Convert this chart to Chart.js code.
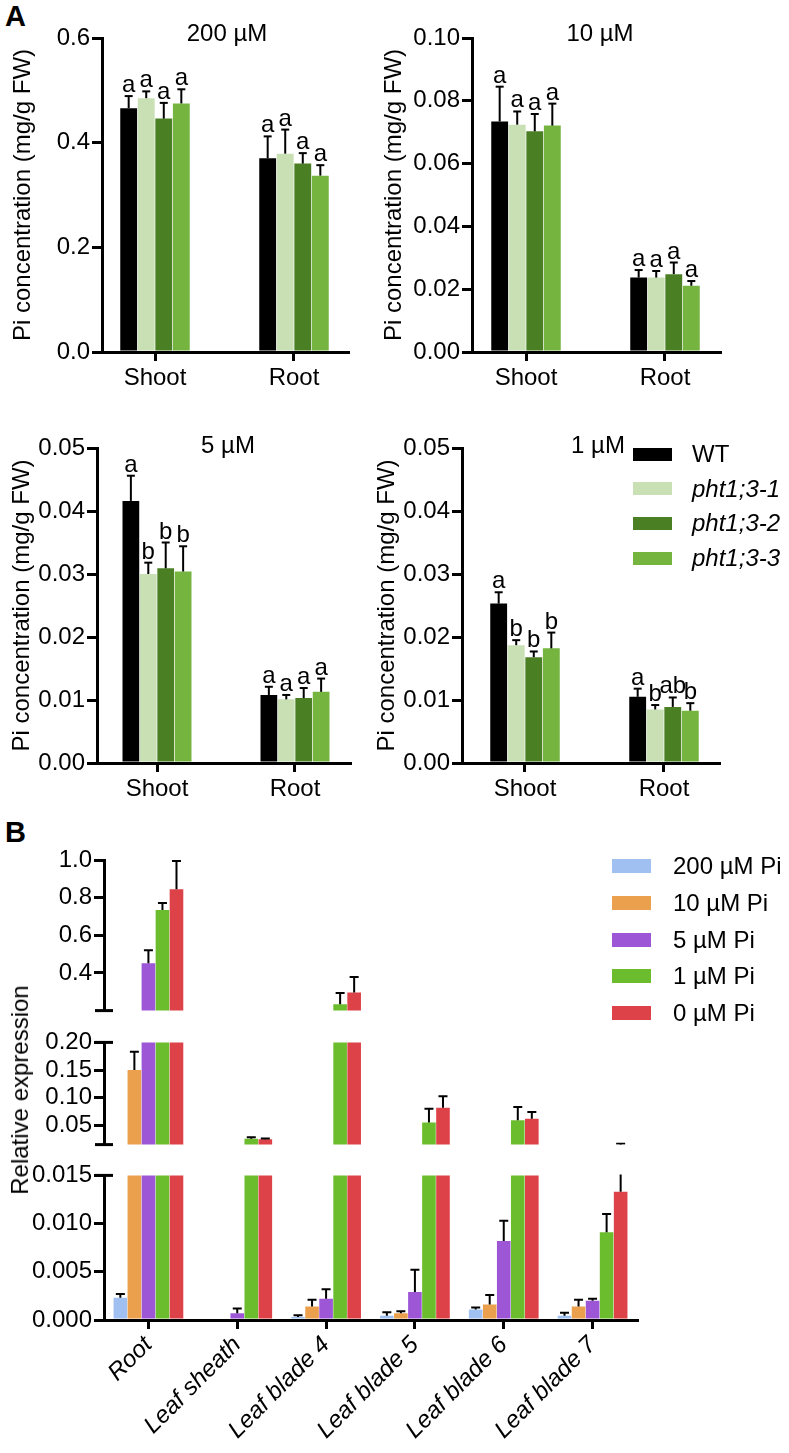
<!DOCTYPE html>
<html><head><meta charset="utf-8">
<script src="https://cdn.jsdelivr.net/npm/chart.js@4.4.1/dist/chart.umd.min.js"></script>
<style>
html,body{margin:0;padding:0;background:#fff;}
body{width:789px;height:1453px;position:relative;overflow:hidden;font-family:'Liberation Sans',Arial,sans-serif;color:#000;}
.box{position:absolute;}
.box canvas{display:block;}
.txt{position:absolute;white-space:nowrap;font-size:24px;line-height:1;}
.panel{position:absolute;font-weight:bold;font-size:29px;line-height:1;}
.sw{position:absolute;}
</style></head><body>
<div class="panel" style="left:5px;top:2px;">A</div>
<div class="panel" style="left:5px;top:818px;">B</div>
<div id="root"></div>
<script>
// ---------- Panel A data ----------
const aCategories = ['Shoot', 'Root'];
const genotypes = ['WT', 'pht1;3-1', 'pht1;3-2', 'pht1;3-3'];
const genotypeColors = ['#000000', '#c8e0b4', '#4b7f24', '#74b43f'];
const aTitles = ['200 \u00b5M', '10 \u00b5M', '5 \u00b5M', '1 \u00b5M'];

const ticks200 = [0, 0.2, 0.4, 0.6];
const mean200 = [[0.466, 0.370], [0.485, 0.379], [0.446, 0.360], [0.475, 0.337]];
const err200 = [[0.023, 0.042], [0.013, 0.046], [0.030, 0.020], [0.027, 0.020]];
const letters200 = [['a', 'a'], ['a', 'a'], ['a', 'a'], ['a', 'a']];

const ticks10 = [0, 0.02, 0.04, 0.06, 0.08, 0.10];
const mean10 = [[0.0734, 0.0237], [0.0724, 0.0237], [0.0703, 0.0248], [0.0721, 0.0211]];
const err10 = [[0.0111, 0.0024], [0.0042, 0.0021], [0.0055, 0.0037], [0.0070, 0.0015]];
const letters10 = [['a', 'a'], ['a', 'a'], ['a', 'a'], ['a', 'a']];

const ticks5 = [0, 0.01, 0.02, 0.03, 0.04, 0.05];
const mean5 = [[0.0416, 0.0108], [0.0300, 0.0101], [0.0309, 0.0103], [0.0304, 0.0113]];
const err5 = [[0.0040, 0.0013], [0.0018, 0.0007], [0.0041, 0.0016], [0.0040, 0.0021]];
const letters5 = [['a', 'a'], ['b', 'a'], ['b', 'a'], ['b', 'a']];

const ticks1 = [0, 0.01, 0.02, 0.03, 0.04, 0.05];
const mean1 = [[0.0253, 0.0105], [0.0187, 0.0085], [0.0168, 0.0089], [0.0182, 0.0083]];
const err1 = [[0.0018, 0.0013], [0.0008, 0.0007], [0.0009, 0.0015], [0.0025, 0.0012]];
const letters1 = [['a', 'a'], ['b', 'b'], ['b', 'ab'], ['b', 'b']];

// ---------- Panel B data ----------
const bCategories = ['Root', 'Leaf sheath', 'Leaf blade 4', 'Leaf blade 5', 'Leaf blade 6', 'Leaf blade 7'];
const bSeries = ['200 \u00b5M Pi', '10 \u00b5M Pi', '5 \u00b5M Pi', '1 \u00b5M Pi', '0 \u00b5M Pi'];
const bColors = ['#a0c0f2', '#eaa04d', '#9d56d6', '#6cbd2d', '#dc4247'];
const bMean200 = [0.0023, null, 0.0003, 0.00045, 0.0011, 0.00045];
const bErr200  = [0.0004, null, 0.0002, 0.00035, 0.0002, 0.0003];
const bMean10  = [0.150, null, 0.0014, 0.0007, 0.0016, 0.0014];
const bErr10   = [0.033, null, 0.0007, 0.0002, 0.0010, 0.0007];
const bMean5   = [0.452, 0.0007, 0.0022, 0.0029, 0.0082, 0.0020];
const bErr5    = [0.068, 0.0005, 0.0010, 0.0023, 0.0021, 0.0002];
const bMean1   = [0.734, 0.0255, 0.234, 0.055, 0.059, 0.0091];
const bErr1    = [0.038, 0.0026, 0.060, 0.025, 0.024, 0.0019];
const bMean0   = [0.845, 0.0247, 0.296, 0.0816, 0.062, 0.0133];
const bErr0    = [0.150, 0.0013, 0.083, 0.021, 0.012, 0.0032];
const bTicksTop = [0.4, 0.6, 0.8, 1.0];
const bTicksMid = [0.05, 0.10, 0.15, 0.20];
const bTicksBot = [0, 0.005, 0.010, 0.015];
const bRanges = [[0.2, 1.0], [0.015, 0.20], [0, 0.015]];

// ---------- helpers ----------
Chart.defaults.font.family = "'Liberation Sans', Arial, sans-serif";
Chart.defaults.color = '#000';
Chart.defaults.animation = false;

const errPlugin = {
  id: 'errbars',
  afterDatasetsDraw(chart, args, o) {
    if (!o || !o.errs) return;
    const ctx = chart.ctx, a = chart.chartArea, ys = chart.scales.y;
    ctx.save();
    ctx.beginPath();
    ctx.rect(a.left, a.top - 1, a.right - a.left, a.bottom - a.top + 1);
    ctx.clip();
    ctx.strokeStyle = '#000';
    ctx.lineWidth = o.lw;
    chart.data.datasets.forEach((ds, di) => {
      const meta = chart.getDatasetMeta(di);
      meta.data.forEach((el, i) => {
        const raw = ds.data[i];
        const v = raw == null ? null : (typeof raw === 'object' ? raw.y : raw);
        const e = o.errs[di][i];
        if (v == null || e == null) return;
        const yT = ys.getPixelForValue(v + e);
        const yB = ys.getPixelForValue(v);
        ctx.beginPath(); ctx.moveTo(el.x, yB); ctx.lineTo(el.x, yT); ctx.stroke();
        ctx.beginPath(); ctx.moveTo(el.x - o.cap / 2, yT); ctx.lineTo(el.x + o.cap / 2, yT); ctx.stroke();
      });
    });
    ctx.restore();
    if (o.letters) {
      ctx.save();
      ctx.fillStyle = '#000';
      ctx.font = o.letterFont;
      ctx.textAlign = 'center';
      ctx.textBaseline = 'alphabetic';
      chart.data.datasets.forEach((ds, di) => {
        const meta = chart.getDatasetMeta(di);
        meta.data.forEach((el, i) => {
          const raw = ds.data[i];
          const v = typeof raw === 'object' ? raw.y : raw;
          const yT = ys.getPixelForValue(v + o.errs[di][i]);
          ctx.fillText(o.letters[di][i], el.x, yT - 4);
        });
      });
      ctx.restore();
    }
  }
};

const breakPlugin = {
  id: 'breaks',
  afterDraw(chart, args, o) {
    if (!o || (!o.top && !o.bottom)) return;
    const ctx = chart.ctx, a = chart.chartArea;
    ctx.save();
    ctx.strokeStyle = '#000';
    ctx.lineWidth = 3;
    const draw = (y) => { ctx.beginPath(); ctx.moveTo(a.left - 9, y); ctx.lineTo(a.left + 9, y); ctx.stroke(); };
    if (o.top) draw(a.top);
    if (o.bottom) draw(a.bottom);
    ctx.restore();
  }
};

function addBox(left, top, w, h) {
  const d = document.createElement('div');
  d.className = 'box';
  d.style.left = left + 'px'; d.style.top = top + 'px';
  d.style.width = w + 'px'; d.style.height = h + 'px';
  const c = document.createElement('canvas');
  c.width = w; c.height = h;
  c.style.width = w + 'px'; c.style.height = h + 'px';
  d.appendChild(c);
  document.getElementById('root').appendChild(d);
  return c;
}

function addText(txt, x, y, opts) {
  const d = document.createElement('div');
  d.className = 'txt';
  d.textContent = txt;
  d.style.left = x + 'px'; d.style.top = y + 'px';
  if (opts && opts.center) d.style.transform = 'translate(-50%,-50%)';
  else d.style.transform = 'translateY(-50%)';
  if (opts && opts.italic) d.style.fontStyle = 'italic';
  if (opts && opts.size) d.style.fontSize = opts.size + 'px';
  if (opts && opts.rotate) { d.style.transform = 'translate(-50%,-50%) rotate(-90deg)'; }
  document.body.appendChild(d);
  return d;
}

const axisGrid = { display: true, drawOnChartArea: false, drawTicks: true, tickLength: 10, lineWidth: 3, tickWidth: 3, tickColor: '#000', color: '#000' };
const axisBorder = { display: true, color: '#000', width: 3 };

function makeA(p) {
  const W = p.right + p.padR - p.left;
  const H = p.bottom + 48 - p.top;
  const cv = addBox(p.left, p.top, W, H);
  const datasets = genotypes.map((g, gi) => ({
    label: g,
    data: p.means[gi].map((v, i) => ({ x: i, y: v })),
    backgroundColor: genotypeColors[gi],
    borderWidth: 0,
    clip: 0,
    categoryPercentage: 0.505,
    barPercentage: 0.96
  }));
  new Chart(cv, {
    type: 'bar',
    data: { datasets },
    options: {
      responsive: false,
      animation: false,
      layout: { padding: { top: p.chartTop - p.top, right: p.padR, bottom: 0, left: 0 } },
      plugins: {
        legend: { display: false }, tooltip: { enabled: false }, title: { display: false },
        errbars: { errs: p.errs, letters: p.letters, cap: 8, lw: 2, letterFont: "24px 'Liberation Sans', Arial, sans-serif" },
        breaks: {}
      },
      scales: {
        x: {
          type: 'linear', offset: false, min: p.xMin, max: p.xMax, z: 1,
          grid: Object.assign({}, axisGrid, { offset: false, tickLength: 9 }),
          border: axisBorder,
          afterBuildTicks: (s) => { s.ticks = aCategories.map((c, i) => ({ value: i })); },
          afterFit: (s) => { s.height = 48; },
          ticks: { font: { size: 24 }, padding: 3, autoSkip: false, maxRotation: 0, callback: (v) => aCategories[v] }
        },
        y: {
          min: 0, max: p.yTicks[p.yTicks.length - 1], z: 1,
          grid: axisGrid, border: axisBorder,
          afterBuildTicks: (s) => { s.ticks = p.yTicks.map(v => ({ value: v })); },
          afterFit: (s) => { s.width = p.axisX - p.left; },
          ticks: { font: { size: 24 }, padding: 2, callback: (v) => Number(v).toFixed(p.dec) },
          title: { display: true, text: 'Pi concentration (mg/g FW)', font: { size: 24 }, padding: { top: p.titlePad, bottom: 0 } }
        }
      }
    },
    plugins: [errPlugin, breakPlugin]
  });
}

makeA({ left: 0, top: 0, axisX: 102, right: 348, padR: 12, chartTop: 38, bottom: 352, xMin: -0.3813, xMax: 1.3885,
  yTicks: ticks200, dec: 1, means: mean200, errs: err200, letters: letters200, titlePad: 9 });
makeA({ left: 370, top: 0, axisX: 472, right: 720, padR: 12, chartTop: 38, bottom: 352, xMin: -0.3885, xMax: 1.3957,
  yTicks: ticks10, dec: 2, means: mean10, errs: err10, letters: letters10, titlePad: 10 });
makeA({ left: 0, top: 410, axisX: 97, right: 350, padR: 12, chartTop: 448, bottom: 763, xMin: -0.4348, xMax: 1.3986,
  yTicks: ticks5, dec: 2, means: mean5, errs: err5, letters: letters5, titlePad: 8 });
makeA({ left: 362, top: 410, axisX: 462, right: 719, padR: 12, chartTop: 448, bottom: 763, xMin: -0.4532, xMax: 1.3957,
  yTicks: ticks1, dec: 2, means: mean1, errs: err1, letters: letters1, titlePad: 11 });

addText(aTitles[0], 227, 33, { center: true });
addText(aTitles[1], 600, 33, { center: true });
addText(aTitles[2], 228, 445, { center: true });
addText(aTitles[3], 598, 445, { center: true });

// Legend A
genotypes.forEach((g, i) => {
  const y = 454 + i * 34.7;
  const s = document.createElement('div');
  s.className = 'sw';
  s.style.left = '633px'; s.style.top = (y - 6.5) + 'px';
  s.style.width = '39px'; s.style.height = '13px';
  s.style.background = genotypeColors[i];
  document.body.appendChild(s);
  addText(g, 692, y, { italic: i > 0 });
});

// ---------- Panel B ----------
const bMeans = [bMean200, bMean10, bMean5, bMean1, bMean0];
const bErrs = [bErr200, bErr10, bErr5, bErr1, bErr0];
const bTickSets = [bTicksTop, bTicksMid, bTicksBot];
const bDec = [1, 2, 3];
const bLayout = [
  { top: 826, h: 201, padTop: 34, padBottom: 4, showX: false, brk: { top: false, bottom: true } },
  { top: 1026, h: 135, padTop: 14, padBottom: 4, showX: false, brk: { top: true, bottom: true } },
  { top: 1159, h: 294, padTop: 14, padBottom: 0, showX: true, brk: { top: true, bottom: false } }
];
const bLeft = 0, bAxisX = 104, bRight = 637, bW = 660;

bLayout.forEach((L, si) => {
  const cv = addBox(bLeft, L.top, bW, L.h);
  const datasets = bSeries.map((s, k) => ({
    label: s,
    data: bMeans[k],
    backgroundColor: bColors[k],
    borderWidth: 0,
    clip: 0,
    categoryPercentage: 0.79,
    barPercentage: 0.97
  }));
  new Chart(cv, {
    type: 'bar',
    data: { labels: bCategories, datasets },
    options: {
      responsive: false,
      animation: false,
      layout: { padding: { top: L.padTop, right: bW - bRight, bottom: L.padBottom, left: 0 } },
      plugins: {
        legend: { display: false }, tooltip: { enabled: false },
        errbars: { errs: bErrs, cap: 9, lw: 2 },
        breaks: L.brk
      },
      scales: {
        x: {
          display: L.showX, z: 1,
          grid: Object.assign({}, axisGrid, { offset: false, tickLength: 9 }),
          border: axisBorder,
          afterFit: (s) => { if (L.showX) s.height = 133; },
          ticks: { font: { size: 24, style: 'italic' }, padding: 2, autoSkip: false, minRotation: 45, maxRotation: 45 }
        },
        y: {
          min: bRanges[si][0], max: bRanges[si][1], z: 1,
          grid: axisGrid, border: axisBorder,
          afterBuildTicks: (s) => { s.ticks = bTickSets[si].map(v => ({ value: v })); },
          afterFit: (s) => { s.width = bAxisX - bLeft; },
          ticks: { font: { size: 24 }, padding: 2, callback: (v) => Number(v).toFixed(bDec[si]) }
        }
      }
    },
    plugins: [errPlugin, breakPlugin]
  });
});

addText('Relative expression', 20, 1090, { rotate: true, size: 24 });

// Legend B
bSeries.forEach((s, i) => {
  const y = 866 + i * 36.8;
  const sw = document.createElement('div');
  sw.className = 'sw';
  sw.style.left = '612px'; sw.style.top = (y - 7) + 'px';
  sw.style.width = '39px'; sw.style.height = '14px';
  sw.style.background = bColors[i];
  document.body.appendChild(sw);
  addText(s, 673, y, {});
});
</script>
</body></html>
